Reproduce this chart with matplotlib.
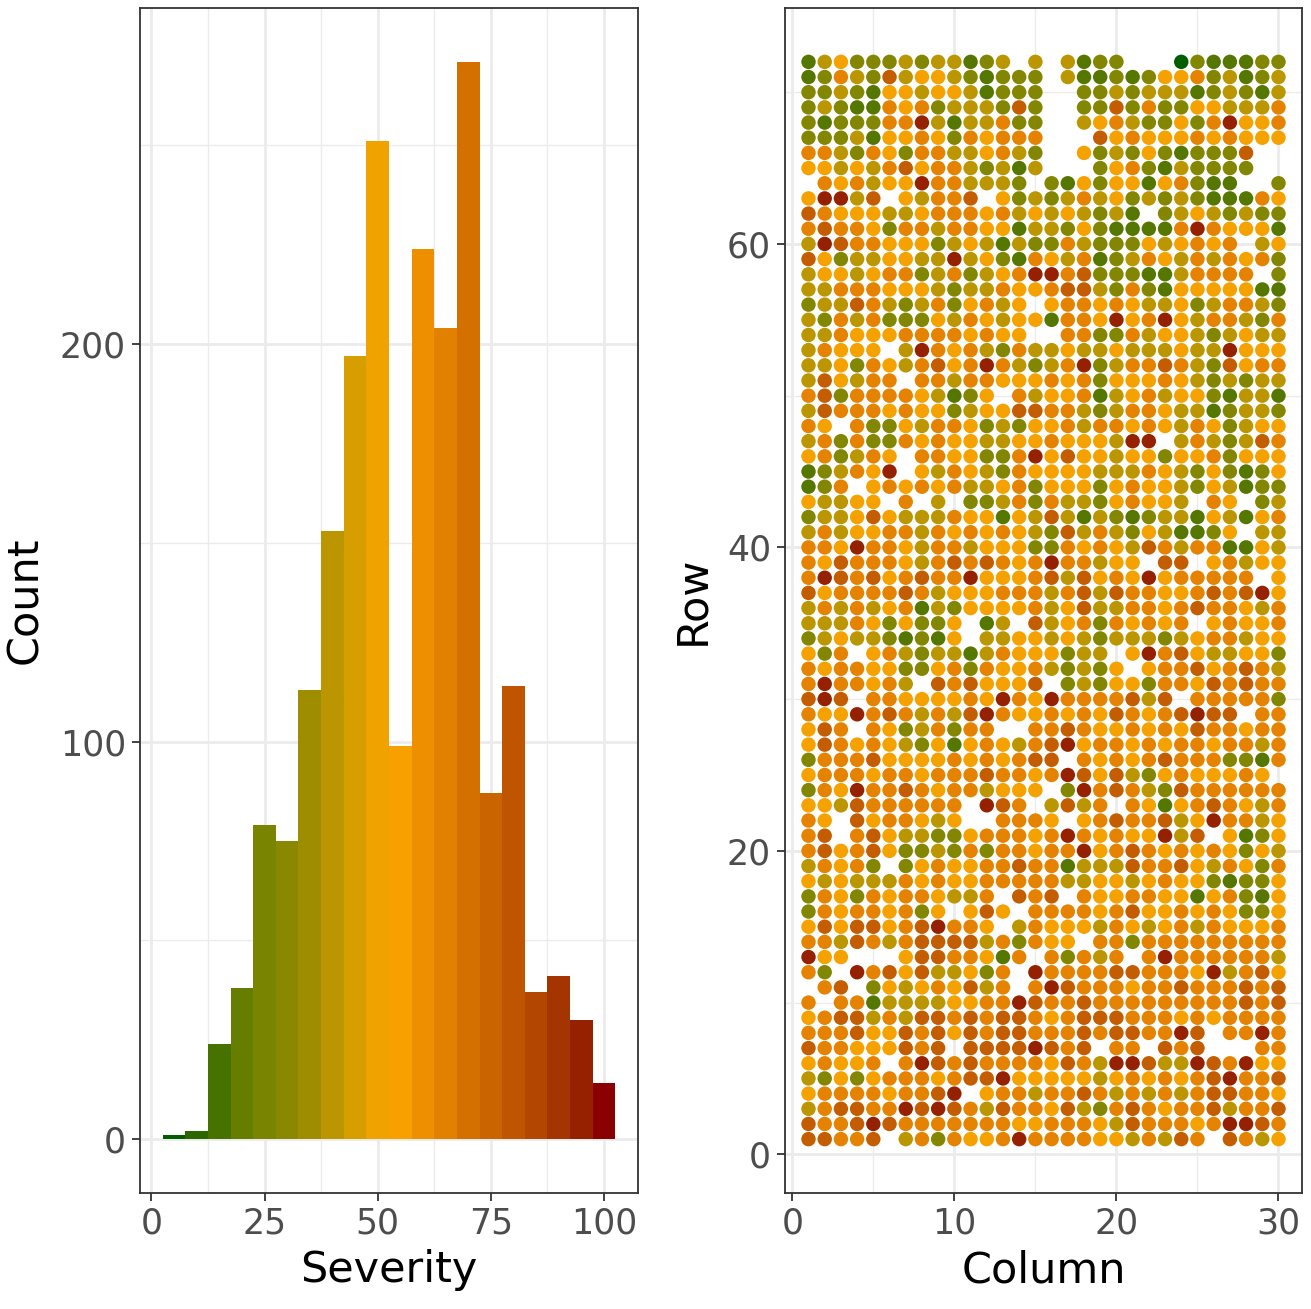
import numpy as np
import matplotlib
matplotlib.use("Agg")
import matplotlib.pyplot as plt
from matplotlib.colors import LinearSegmentedColormap, Normalize

# ---------------- data ----------------
bin_centers = [5, 10, 15, 20, 25, 30, 35, 40, 45, 50,
               55, 60, 65, 70, 75, 80, 85, 90, 95, 100]
bin_counts = [1, 2, 24, 38, 79, 75, 113, 153, 197, 251,
              99, 224, 204, 271, 87, 114, 37, 41, 30, 14]
bin_width = 5

# severity class codes for the field grid (approximate severity per class)
code_severity = {"G": 5, "g": 17, "o": 28, "y": 40, "a": 53,
                 "d": 64, "b": 78, "r": 95}

# rows listed from Row 72 (top) down to Row 1; 30 columns each; '.' = missing
grid_rows = [
    "gyaoooyoyygoy.y.ygoo...Gogggoo",  # 72
    "godyobyaayogooo.yggogoaadoygoy",  # 71
    "ooyogaayaaygooo..ooyoyyygoyogy",  # 70
    "oyoggdadoyyyobo..oobodooaayyyd",  # 69
    "ogoooddrygyydoo..yadyooaodraad",  # 68
    "oooygaadaodaddd...badaaadadaaa",  # 67
    "ddyodaoddyyadyo..aoyoaogooob..",  # 66
    "aayaydbaddyoygy...oadogyoooo..",  # 65
    ".dadyaarddyyyo.ogaoaagadogg..o",  # 64
    "arryb.ayddb.aoyoydyaoyoyogggda",  # 63
    "bdaaayyadddadyayayoyg.oyayoyoo",  # 62
    "dbddaoddyddaagyyoaoggggdrdaaag",  # 61
    "yrbddaaaoyaygyoodyoooayadad.ya",  # 60
    "baoyyaayyryaogdaydgoydaydydado",  # 59
    "yaayaddoydoyadrrdboooggydddd.o",  # 58
    "yydddaaayoyydaadbbyodogaaaaagg",  # 57
    "oyybdyoydoadya.addadayyaoyddyo",  # 56
    "yodydoooaydayaagddaradrayddyod",  # 55
    "yydaaaddddadaa..ddoodyaayoyayy",  # 54
    "ydaaa.yrdadyodyyayyayyyayyraaa",  # 53
    "yyaodaydbadrdyoydroyddbdyobadd",  # 52
    "ybaydd.ddyddaaadadoaaadayoyoyy",  # 51
    "dboddddaygoa.dyaadgyadyaaogyyg",  # 50
    "ybdddadaaoyaabbddyoyddayygoyyo",  # 49
    "da.dooayddaoyoaadyddadaydaoyaa",  # 48
    "ydodoodadaayyaadaaayrr.ydyoybd",  # 47
    "adoyda.ddaaoodrabaayaaoaadoaaa",  # 46
    "goydar.aydayodaaaayyydayoaogoa",  # 45
    "god.adadadyyadoaaaoadaayoaygoo",  # 44
    "ayyaa.d.y.ooydodyyoadaay.da.oy",  # 43
    "oyyabayyydaagaybygyogoyygaygad",  # 42
    "ydyaaddydadadayobydyoayggoa.yy",  # 41
    "ddarddayddyaaaoodadaybdyddggay",  # 40
    "dabdddaydbdbdadrddyaa.bb.adyaa",  # 39
    "drbdbadbddraaadbybadaraddddd.a",  # 38
    "baddddbdyaaadddydbybddaadbdbra",  # 37
    "ydydyadgyoaaaadyabyyddadbddayd",  # 36
    "yyydaoaooa.gy.byadodadad.adaad",  # 35
    "oyayyogoga.yyaayayoyyyoyaddyaa",  # 34
    "aod.adyoyygydaaaoyy.ardbayyaao",  # 33
    "daddaaooadodaadyoyoa.addbadbdy",  # 32
    "drddady.bdbaaab.oyoaaoddabdbdd",  # 31
    "brb.ddaaaadardarddddbyb.dddddo",  # 30
    "daardbdydybrdaadadabdadbrbb.dd",  # 29
    "abd.daoydodd..ddbdaadadabddadd",  # 28
    "abdadayoagadaydbraddadaddaddyd",  # 27
    "odddbaaaadadadbb.dadadbdddoogd",  # 26
    "adddaddadddbddadrbabyoadaaada.",  # 25
    "odarddbdaddyaaa.ordbdyobdddddd",  # 24
    "aaybdddddd.rbd.ybyd.dagadbdayd",  # 23
    "da.baddaya..ddda.adbddbyarddya",  # 22
    "db.dbayyooadddadrdadaaryb.agoa",  # 21
    "dbadbaooyododdaddradbdadadaoay",  # 20
    "ydado.oadaaddbddgyyybddbaydaod",  # 19
    "ayayyydadaadddddyyaayadaaogooa",  # 18
    "odaodaddayyd.bdb.daaddaagadoga",  # 17
    "odaddadoa.aba.ddddadbaadadaooa",  # 16
    "ababbadbrdda.ydaaaydayadydaaad",  # 15
    "ddybdydbbbbydodaa.ddoddddddddd",  # 14
    "raa...abbddagd.dodyd.drddddddy",  # 13
    "do.rdbabyyaod.rddddbbdddarydba",  # 12
    ".db.oayadabyd.drbdddaddbdddbdb",  # 11
    "d.ddgyyyyaaddrbddbdddddddddbdb",  # 10
    "adbbydybbdbdbbdadbbbdddadadddd",  # 9
    "dddbaabdbabdbbdddbdbbddrb.ddrd",  # 8
    "bddaaabdb.bbbbrbdb.dd.bdb...dd",  # 7
    "adaad.drbdbddddabdyrrbyyrbdraa",  # 6
    "yoaoadddadbbraaaaayadadadbrddb",  # 5
    "addddaddbr.addyddbdydydydbbdda",  # 4
    "ydbbddrbrbdybddabyodbdaddbyddb",  # 3
    "bddbrbdddd" "dddaaddday" "bdddadrrbd",  # 2
    "bbddb.ydodaadrddddaaydybd.bdya",  # 1
]
n_rows = 72
n_cols = 30

# ---------------- build grid points ----------------
cols, rows, sev = [], [], []
for i, line in enumerate(grid_rows):
    r = n_rows - i
    line = line[:n_cols]
    for j, ch in enumerate(line):
        if ch in code_severity:
            cols.append(j + 1)
            rows.append(r)
            sev.append(code_severity[ch])
cols = np.array(cols)
rows = np.array(rows)
sev = np.array(sev)

# colour scale (green -> orange -> dark red), anchors over severity 5..100
scale_colours = ["#005e00", "#2c6600", "#4a7300", "#667e00", "#7a8400",
                 "#8a8800", "#a08d00", "#bb9600", "#d89e00", "#f0a200",
                 "#f8a000", "#ee8f00", "#e28000", "#d47000", "#ca6400",
                 "#c05600", "#b34600", "#a53600", "#952200", "#8b0000"]
cmap = LinearSegmentedColormap.from_list("sev", scale_colours)
norm = Normalize(vmin=5, vmax=100)

# ---------------- figure ----------------
W, H = 1311, 1309
fig = plt.figure(figsize=(W / 100, H / 100), dpi=100)

grid_col = "#ebebeb"
border_col = "#333333"
tick_col = "#4d4d4d"
tick_fs = 25
title_fs = 31


def style(ax):
    for s in ax.spines.values():
        s.set_color(border_col)
        s.set_linewidth(1.3)
    ax.set_facecolor("white")
    ax.grid(True, which="major", color=grid_col, linewidth=2.0, zorder=0)
    ax.grid(True, which="minor", color=grid_col, linewidth=1.0, zorder=0)
    ax.set_axisbelow(True)
    ax.tick_params(which="major", length=6, width=1.3, color=border_col,
                   labelsize=tick_fs, labelcolor=tick_col, pad=4)
    ax.tick_params(which="minor", length=0)


# left: histogram
ax1 = fig.add_axes([140 / W, (H - 1193) / H, 498 / W, 1185 / H])
style(ax1)
centers = np.array(bin_centers)
counts = np.array(bin_counts)
ax1.bar(centers, counts, width=bin_width, color=cmap(norm(centers)),
        linewidth=0, zorder=2)
lo, hi = centers.min() - bin_width / 2, centers.max() + bin_width / 2
ax1.set_xlim(lo - 0.05 * (hi - lo), hi + 0.05 * (hi - lo))
ax1.set_ylim(-0.05 * counts.max(), counts.max() * 1.05)
ax1.set_xticks([0, 25, 50, 75, 100])
ax1.set_xticks([12.5, 37.5, 62.5, 87.5], minor=True)
ax1.set_yticks([0, 100, 200])
ax1.set_yticks([50, 150, 250], minor=True)
ax1.set_xlabel("Severity", fontsize=title_fs, labelpad=6)
ax1.set_ylabel("Count", fontsize=title_fs, labelpad=10)

# right: field map
ax2 = fig.add_axes([785 / W, (H - 1193) / H, 517 / W, 1185 / H])
style(ax2)
ax2.scatter(cols, rows, c=cmap(norm(sev)), s=108, linewidths=0, zorder=2)
ax2.set_xlim(1 - 0.05 * 29, 30 + 0.05 * 29)
ax2.set_ylim(1 - 0.05 * 71, 72 + 0.05 * 71)
ax2.set_xticks([0, 10, 20, 30])
ax2.set_xticks([5, 15, 25], minor=True)
ax2.set_yticks([0, 20, 40, 60])
ax2.set_yticks([10, 30, 50, 70], minor=True)
ax2.set_xlabel("Column", fontsize=title_fs, labelpad=6)
ax2.set_ylabel("Row", fontsize=title_fs, labelpad=10)

fig.savefig("out.png", dpi=100)
